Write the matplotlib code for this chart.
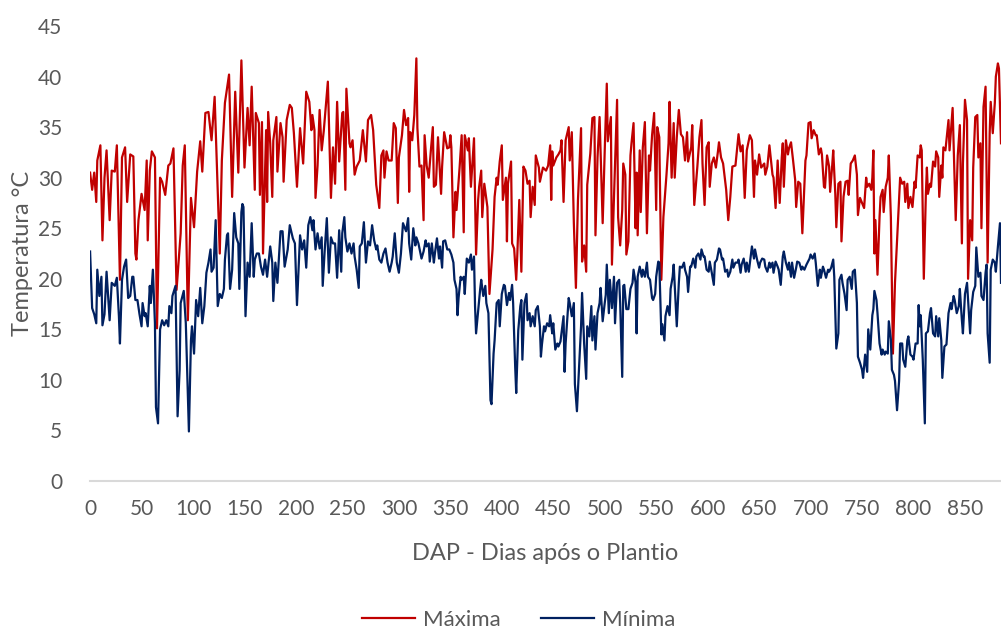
import matplotlib
matplotlib.use("Agg")
import matplotlib.pyplot as plt

# Temperatura maxima diaria, dia apos plantio -> graus C
dias_max = [0, 2, 4, 6, 7, 10, 12, 14, 16, 19, 21, 24, 26, 29, 31, 34, 36, 39, 42, 44, 45, 47, 50, 53, 55, 56, 58, 60, 63, 65,
            68, 70, 73, 76, 78, 81, 84, 88, 90, 92, 95, 98, 101, 104, 107, 109, 112, 115, 118, 121, 126, 128, 131, 135, 138, 141, 144, 147,
            150, 153, 155, 157, 160, 161, 164, 165, 167, 168, 171, 172, 173, 175, 177, 178, 181, 182, 185, 187, 188, 191, 194, 196, 198,
            201, 204, 207, 210, 213, 215, 216, 218, 219, 221, 223, 225, 227, 231, 234, 236, 238, 240, 242, 245, 246, 248, 249, 252, 253,
            255, 257, 259, 262, 265, 268, 270, 273, 275, 278, 281, 283, 285, 286, 288, 290, 293, 295, 297, 299,
            300, 303, 305, 307, 309, 310, 311, 313, 315, 317, 318, 320, 322, 324, 325, 327, 329, 331, 333, 334, 336, 338, 341, 342, 344,
            347, 349, 350, 351, 353, 355, 356, 359, 361, 363, 364, 367, 368, 370, 373, 375, 377, 378, 380, 381, 383, 386, 388, 391, 393,
            395, 396, 398, 400, 401, 404, 405, 406, 409, 410, 412, 414, 415, 417, 419, 421, 423, 425, 427, 428, 430, 432, 433, 436, 437,
            440, 443, 445, 447, 448, 449, 450, 453, 455, 457, 458, 460, 462, 465, 466, 468, 470, 472, 474, 477, 478, 480, 482, 483, 486,
            488, 490, 491, 493, 495, 498, 500, 502, 503, 506, 507, 509, 512, 513, 515, 517, 518, 520, 521, 523, 525, 526, 528, 530, 531,
            532, 534, 535, 537, 539, 541, 543, 544, 546, 548, 550, 551, 553, 555, 557, 560, 562, 563, 565, 567, 568, 570, 572, 574, 576,
            578, 580, 581, 584, 585, 587, 590, 592, 594, 595, 597, 599, 601, 602, 604, 606, 608, 610, 611, 613, 615, 618, 620, 622, 624,
            627, 630, 632, 634, 636, 638, 641, 643, 645, 646, 648, 650, 652, 655, 656, 658, 660, 663, 664, 666, 668, 670, 672, 673, 674,
            676, 678, 679, 681, 683, 685, 686, 688, 690, 692, 695, 696, 698, 700, 701, 703, 705, 706, 708, 710, 711, 713, 714, 716, 718,
            719, 721, 722, 724, 725, 727, 729, 730, 732, 734, 736, 737, 739, 741, 743, 745, 746, 748, 750, 752, 754, 755, 757, 759, 760,
            761, 762, 763, 765, 767, 768, 770, 771, 773, 775, 776, 778, 780, 782, 784, 786, 787, 789, 791, 792, 794, 795, 797, 799, 801,
            802, 804, 806, 807, 808, 810, 812, 813, 814, 816, 817, 819, 821, 822, 824, 825, 827, 828, 829, 831, 834, 835, 838, 841, 843,
            845, 847, 848, 850, 852, 853, 855, 857, 858, 860, 862, 863, 865, 866, 868, 870, 872, 874, 875, 877, 879, 880, 882, 883, 885]
tmax = [30.5, 28.8, 30.5, 27.6, 31.7, 33.2, 23.8, 30.0, 32.7, 25.8, 30.7, 30.6, 33.2, 19.9, 32.0, 33.0, 27.6, 32.3, 32.1, 22.5, 21.9, 25.8, 28.4, 26.8, 31.7, 23.8, 30.7, 32.6, 32.0, 15.1,
        30.0, 29.6, 28.3, 31.2, 31.4, 32.9, 18.9, 24.5, 31.2, 33.2, 15.9, 28.0, 25.1, 30.6, 33.6, 30.6, 36.4, 36.5, 33.7, 38.0, 22.5, 31.7, 37.4, 40.2, 28.1, 38.5, 30.5, 41.6,
        31.0, 36.9, 33.2, 39.0, 28.8, 36.4, 35.4, 28.3, 35.5, 22.5, 34.7, 27.6, 36.5, 33.4, 28.1, 33.7, 36.0, 30.6, 35.4, 34.0, 29.6, 35.7, 37.2, 36.9, 34.4,
        29.1, 34.9, 31.4, 38.5, 37.5, 34.7, 36.2, 34.7, 28.0, 31.2, 36.7, 32.7, 34.6, 39.5, 28.0, 33.0, 29.4, 37.5, 31.6, 36.4, 36.5, 28.8, 38.8, 33.4, 33.0,
        33.7, 30.3, 31.1, 31.7, 34.7, 31.6, 35.7, 36.2, 34.7, 29.3, 27.0, 32.2, 32.7, 30.0, 32.6, 31.7, 31.7, 35.4, 34.9, 27.5,
        32.0, 34.2, 36.7, 35.2, 35.9, 28.6, 34.5, 33.7, 36.2, 41.8, 34.9, 31.1, 31.2, 25.8, 34.2, 31.2, 30.0, 32.6, 35.0, 29.1, 29.3, 34.0, 28.4, 31.1, 34.5,
        32.9, 33.0, 34.2, 33.0, 24.1, 28.6, 26.8, 31.0, 34.2, 24.6, 34.2, 32.7, 33.9, 29.1, 33.9, 22.4, 27.8, 29.1, 30.7, 26.1, 29.4, 27.1, 18.5, 22.9, 28.1,
        30.0, 29.3, 31.6, 33.2, 27.8, 30.0, 23.7, 29.4, 31.6, 23.5, 23.0, 19.9, 22.2, 27.8, 20.7, 31.1, 30.7, 29.4, 29.7, 26.1, 29.1, 27.3, 32.2, 31.0, 29.6,
        31.0, 30.7, 31.2, 33.2, 27.8, 32.6, 31.2, 32.0, 32.3, 32.7, 33.7, 27.6, 33.7, 35.0, 31.7, 34.5, 25.5, 19.1, 27.8, 34.9, 21.7, 23.3, 20.7, 29.3, 32.4,
        35.9, 36.0, 24.3, 32.0, 36.0, 25.5, 32.7, 39.3, 33.6, 36.0, 21.4, 28.1, 37.7, 26.1, 23.3, 26.8, 31.4, 30.3, 22.4, 23.7, 32.2, 33.4, 35.4, 25.0, 30.5,
        24.3, 32.7, 26.6, 33.0, 35.5, 24.5, 32.2, 30.7, 34.2, 36.4, 26.8, 35.0, 34.0, 19.9, 26.1, 30.3, 33.4, 37.5, 30.0, 35.4, 30.0, 34.0, 36.7, 34.3, 34.0,
        31.7, 34.5, 31.6, 33.0, 35.2, 27.3, 31.1, 34.0, 35.7, 31.4, 27.3, 33.0, 33.5, 29.1, 31.4, 32.0, 31.0, 32.6, 33.5, 32.0, 31.4, 28.8, 25.8, 28.1, 31.1,
        31.2, 34.3, 32.6, 33.2, 28.0, 32.7, 34.2, 33.7, 28.1, 31.7, 30.3, 32.3, 31.0, 31.4, 30.3, 31.1, 33.2, 30.3, 30.0, 27.0, 31.7, 27.5, 32.0, 33.4, 29.1,
        33.7, 32.3, 32.9, 33.5, 31.7, 29.8, 27.1, 29.6, 29.4, 24.5, 31.7, 32.2, 35.4, 35.5, 33.9, 34.7, 34.2, 34.2, 32.3, 32.9, 32.3, 29.1, 29.0, 32.2, 31.1,
        28.6, 31.2, 32.7, 28.4, 25.1, 29.4, 29.6, 23.7, 28.1, 29.6, 29.7, 28.3, 31.4, 31.7, 32.2, 30.3, 26.3, 28.0, 27.5, 27.0, 30.0, 29.1, 29.4, 28.8, 30.0,
        32.7, 22.5, 25.8, 20.4, 26.1, 28.1, 28.8, 26.6, 29.1, 30.0, 32.2, 26.1, 12.6, 19.6, 23.8, 27.8, 30.0, 29.4, 29.6, 27.6, 29.4, 27.0, 28.1, 27.1, 29.6,
        29.0, 32.2, 32.0, 33.2, 32.7, 20.0, 28.4, 31.0, 28.4, 29.4, 29.1, 31.6, 31.1, 32.6, 32.0, 28.1, 31.2, 30.0, 33.0, 32.7, 35.7, 32.7, 36.9, 25.8, 32.2,
        35.2, 23.5, 31.4, 37.7, 35.7, 20.0, 25.8, 23.8, 31.0, 36.0, 36.2, 32.0, 33.4, 25.0, 37.0, 39.0, 21.6, 34.4, 37.5, 34.4, 37.4, 40.0, 41.3, 40.8, 33.4]

# Temperatura minima diaria
dias_min = [0, 2, 4, 6, 7, 9, 11, 12, 14, 16, 19, 21, 24, 26, 28, 29, 31, 33, 35, 37, 39, 41, 42, 44, 46, 48, 50, 51, 53, 54,
            56, 58, 59, 61, 63, 64, 66, 68, 70, 72, 74, 76, 77, 79, 80, 83, 85, 87, 88, 91, 93, 96, 98, 99, 101, 103, 105, 107, 109, 111,
            113, 115, 117, 118, 120, 122, 124, 126, 128, 130, 131, 133, 134, 136, 138, 140, 142, 144, 145, 147, 148, 149, 151,
            153, 155, 157, 159, 160, 162, 164, 166, 168, 170, 172, 175, 177, 178, 180, 182, 185, 187, 189, 192, 194, 197, 199, 201, 204,
            206, 208, 210, 212, 214, 216, 217, 219, 221, 223, 225, 226, 228, 230, 232, 234, 236, 238, 240, 242, 244, 245, 247, 248, 250,
            252, 254, 256, 257, 259, 261, 262, 264, 266, 268, 270, 272, 274, 276, 278, 279, 281, 283, 285, 287, 289, 291, 293, 294, 296,
            298, 300, 302, 304, 307, 309, 310, 312, 314, 316, 317, 319, 321, 322, 324, 326, 327, 329, 330, 332, 334, 335, 337, 339, 340,
            342, 343, 345, 347, 349, 351, 353, 354, 356, 357, 358, 360, 361, 363, 364, 366, 368, 370, 371, 373, 374, 375, 377, 379, 380,
            382, 384, 385, 387, 389, 390, 392, 393, 395, 397, 398, 400, 402, 403, 405, 407, 408, 410, 411, 413, 414, 416, 418, 419, 420,
            422, 424, 425, 427, 428, 430, 432, 433, 435, 437, 438, 439, 441, 442, 444, 446, 447, 449, 450, 452, 454, 455, 457, 460, 461,
            462, 465, 466, 468, 470, 471, 473, 474, 477, 478, 480, 482, 483, 485, 487, 488, 490, 491, 493, 495, 496, 498, 500, 501, 502,
            504, 505, 507, 509, 510, 512, 514, 515, 517, 518, 519, 521, 523, 525, 527, 528, 530, 531, 532, 534, 536, 537, 539, 541, 542,
            544, 546, 547, 549, 550, 552, 553, 555, 556, 558, 559, 561, 563, 564, 566, 567, 569, 570, 572, 573, 575, 577, 578, 580, 581,
            583, 584, 586, 588, 589, 591, 593, 594, 596, 597, 599, 601, 602, 604, 606, 607, 609, 611, 612, 614, 615, 617, 619, 620, 622,
            624, 625, 627, 629, 630, 632, 633, 635, 637, 638, 640, 642, 643, 645, 646, 648, 650, 651, 653, 655, 656, 658, 660, 661, 663,
            664, 666, 668, 669, 671, 673, 674, 676, 678, 679, 681, 682, 684, 686, 687, 689, 691, 692, 694, 696, 697, 699, 700, 702, 704,
            705, 707, 709, 710, 712, 713, 715, 717, 718, 720, 722, 723, 725, 727, 728, 730, 731, 733, 735, 736, 738, 740, 741, 743, 745,
            746, 748, 750, 751, 753, 755, 756, 758, 760, 761, 762, 764, 765, 767, 769, 770, 772, 773, 775, 776, 778, 779, 781, 782, 784,
            786, 787, 789, 790, 792, 794, 795, 797, 799, 800, 802, 804, 805, 806, 807, 809, 811, 812, 814, 816, 817, 819, 821, 822, 824,
            825, 827, 828, 830, 832, 834, 836, 837, 839, 840, 842, 844, 845, 847, 848, 850, 852, 853, 855, 856, 858, 860, 861, 863, 865,
            866, 868, 870, 871, 872, 874, 875, 877, 879, 880, 882, 884, 885]
tmin = [22.7, 17.1, 16.5, 15.6, 20.9, 18.3, 20.2, 15.4, 16.5, 20.7, 15.9, 19.6, 19.3, 20.1, 16.3, 13.6, 19.9, 21.2, 21.9, 18.1, 18.3, 20.2, 20.2, 17.9, 17.9, 16.5, 15.3, 17.6, 16.3, 16.6,
        15.3, 19.3, 17.6, 20.9, 15.6, 7.3, 5.7, 15.0, 15.9, 15.4, 15.9, 15.3, 17.3, 16.6, 18.3, 19.3, 6.4, 11.0, 17.6, 18.8, 15.6, 4.9, 13.9, 15.3, 12.6, 17.9, 16.3, 19.1, 15.6, 17.3,
        20.6, 21.6, 22.9, 20.7, 21.1, 25.8, 17.3, 18.5, 18.1, 19.0, 21.9, 24.3, 24.5, 19.0, 20.9, 26.5, 24.1, 23.5, 19.0, 26.6, 27.4, 27.1, 16.3,
        21.6, 20.2, 25.5, 20.2, 21.9, 22.5, 22.5, 21.2, 20.4, 21.9, 20.2, 23.2, 21.6, 17.8, 21.6, 19.6, 24.7, 24.7, 21.2, 22.9, 25.3, 24.0, 23.5, 17.4, 24.3,
        22.9, 23.8, 21.1, 25.3, 26.1, 24.8, 25.8, 22.9, 24.5, 23.0, 24.1, 19.3, 22.9, 26.0, 20.6, 24.1, 23.5, 23.5, 20.1, 24.8, 20.7, 24.5, 26.1, 24.1, 22.7,
        23.5, 22.5, 23.5, 22.2, 20.9, 19.1, 23.2, 23.5, 25.6, 21.6, 23.7, 23.3, 25.3, 23.8, 22.9, 23.3, 21.9, 21.6, 22.5, 23.0, 21.6, 20.7, 21.6, 22.2, 24.5,
        21.6, 20.6, 22.5, 25.5, 24.7, 26.0, 23.5, 21.9, 25.0, 23.3, 24.1, 23.5, 22.5, 22.0, 22.7, 23.8, 23.2, 23.5, 21.7, 23.5, 21.6, 22.5, 24.0, 22.0, 23.2,
        21.1, 23.7, 23.8, 22.9, 22.9, 22.4, 21.6, 19.9, 19.0, 16.4, 18.1, 20.2, 19.9, 20.2, 18.5, 22.0, 21.6, 22.4, 20.9, 22.2, 17.3, 14.6, 16.8, 19.0, 19.9,
        18.3, 19.3, 17.6, 16.6, 8.0, 7.6, 12.6, 13.9, 17.6, 17.9, 15.3, 18.5, 19.4, 19.3, 17.4, 18.6, 17.9, 19.4, 17.6, 11.3, 8.7, 14.9, 17.3, 17.9, 12.0,
        17.6, 18.5, 15.9, 16.6, 15.3, 16.3, 15.3, 16.9, 17.3, 15.3, 12.3, 13.5, 15.3, 14.8, 15.6, 15.3, 16.4, 14.6, 15.6, 13.0, 13.6, 13.3, 13.8, 16.3, 10.8,
        13.6, 18.1, 17.6, 16.3, 17.6, 9.6, 6.9, 9.0, 15.3, 18.6, 13.6, 10.1, 15.3, 14.3, 17.3, 13.9, 16.3, 13.0, 16.6, 17.6, 19.1, 15.8, 17.6, 18.4, 21.4,
        16.6, 19.9, 17.1, 20.2, 15.6, 19.6, 19.9, 17.6, 10.3, 19.3, 19.4, 17.0, 17.0, 19.0, 19.6, 20.9, 19.6, 14.6, 20.2, 21.2, 20.2, 20.9, 20.2, 21.6, 20.2,
        19.9, 18.1, 17.9, 18.5, 20.2, 21.7, 21.6, 14.5, 15.5, 13.9, 16.3, 17.3, 16.4, 19.0, 20.2, 21.4, 17.3, 15.3, 19.6, 21.2, 21.1, 21.6, 20.9, 20.2, 18.7,
        21.2, 21.2, 22.0, 21.1, 22.2, 22.5, 21.9, 22.9, 22.2, 22.2, 20.9, 20.7, 21.7, 20.6, 19.4, 21.6, 21.9, 23.0, 22.9, 21.9, 22.0, 20.7, 20.9, 20.2, 20.7,
        21.9, 21.1, 21.6, 21.6, 21.9, 20.6, 21.4, 22.0, 20.7, 21.6, 20.7, 22.4, 23.2, 22.0, 22.9, 21.9, 21.1, 21.6, 22.0, 21.9, 21.2, 20.7, 21.6, 21.1, 21.6,
        20.6, 21.7, 21.2, 20.9, 19.4, 22.2, 22.7, 21.6, 20.9, 21.6, 20.2, 21.6, 20.1, 21.1, 21.7, 21.6, 20.9, 21.2, 20.9, 21.4, 21.6, 22.0, 22.4, 22.0, 22.5,
        21.6, 19.3, 20.9, 20.1, 21.2, 20.9, 20.1, 20.9, 20.7, 21.1, 21.9, 20.2, 13.1, 14.6, 19.9, 20.4, 19.6, 18.5, 16.9, 19.9, 20.2, 19.0, 20.7, 20.9, 17.6,
        12.3, 11.7, 11.0, 10.2, 12.5, 10.8, 15.0, 13.0, 16.4, 17.0, 18.8, 17.9, 16.6, 13.6, 12.5, 13.0, 12.5, 12.8, 12.6, 15.8, 14.0, 11.0, 10.5, 9.9, 7.0,
        9.9, 13.6, 13.6, 12.0, 11.3, 13.9, 14.3, 12.5, 12.3, 12.0, 13.6, 13.6, 17.4, 15.3, 16.4, 12.0, 5.7, 14.6, 14.8, 16.6, 17.1, 14.6, 14.3, 16.3, 14.3,
        16.1, 13.9, 10.2, 13.3, 13.5, 16.6, 17.6, 17.0, 18.3, 17.9, 16.6, 17.3, 19.0, 15.9, 14.6, 18.5, 19.6, 17.9, 14.6, 16.9, 18.7, 19.3, 23.1, 20.2, 20.6,
        18.3, 17.9, 20.6, 21.4, 14.6, 11.7, 20.9, 21.9, 21.6, 20.7, 23.2, 25.5, 19.6]

xticks = list(range(0, 851, 50))
yticks = list(range(0, 46, 5))

plt.rcParams['font.family'] = ['Lato', 'DejaVu Sans']
cinza = '#595959'

fig = plt.figure(figsize=(10.01, 6.30), dpi=100)
ax = fig.add_axes([0.09, 0.2365, 0.91, 0.7222])

ax.plot(dias_max, tmax, color='#C00000', lw=1.6, label='Máxima')
ax.plot(dias_min, tmin, color='#002060', lw=1.6, label='Mínima')

ax.set_xlim(0, 885)
ax.set_ylim(0, 45)
ax.set_xticks(xticks)
ax.set_yticks(yticks)
ax.tick_params(axis='both', length=0, labelsize=15, labelcolor=cinza)
ax.tick_params(axis='x', pad=13)
ax.tick_params(axis='y', pad=20)
for s in ['top', 'right', 'left']:
    ax.spines[s].set_visible(False)
ax.spines['bottom'].set_color('#D9D9D9')
ax.spines['bottom'].set_linewidth(1.5)

ax.set_xlabel('DAP - Dias após o Plantio', fontsize=17, color=cinza, labelpad=17)
ax.set_ylabel('Temperatura °C', fontsize=17, color=cinza, labelpad=4)

fig.legend(loc='center', bbox_to_anchor=(0.518, 0.016), ncol=2, frameon=False,
           fontsize=16, labelcolor=cinza, handlelength=2.4, columnspacing=1.8, handletextpad=0.35)

fig.savefig('out.png', dpi=100)
